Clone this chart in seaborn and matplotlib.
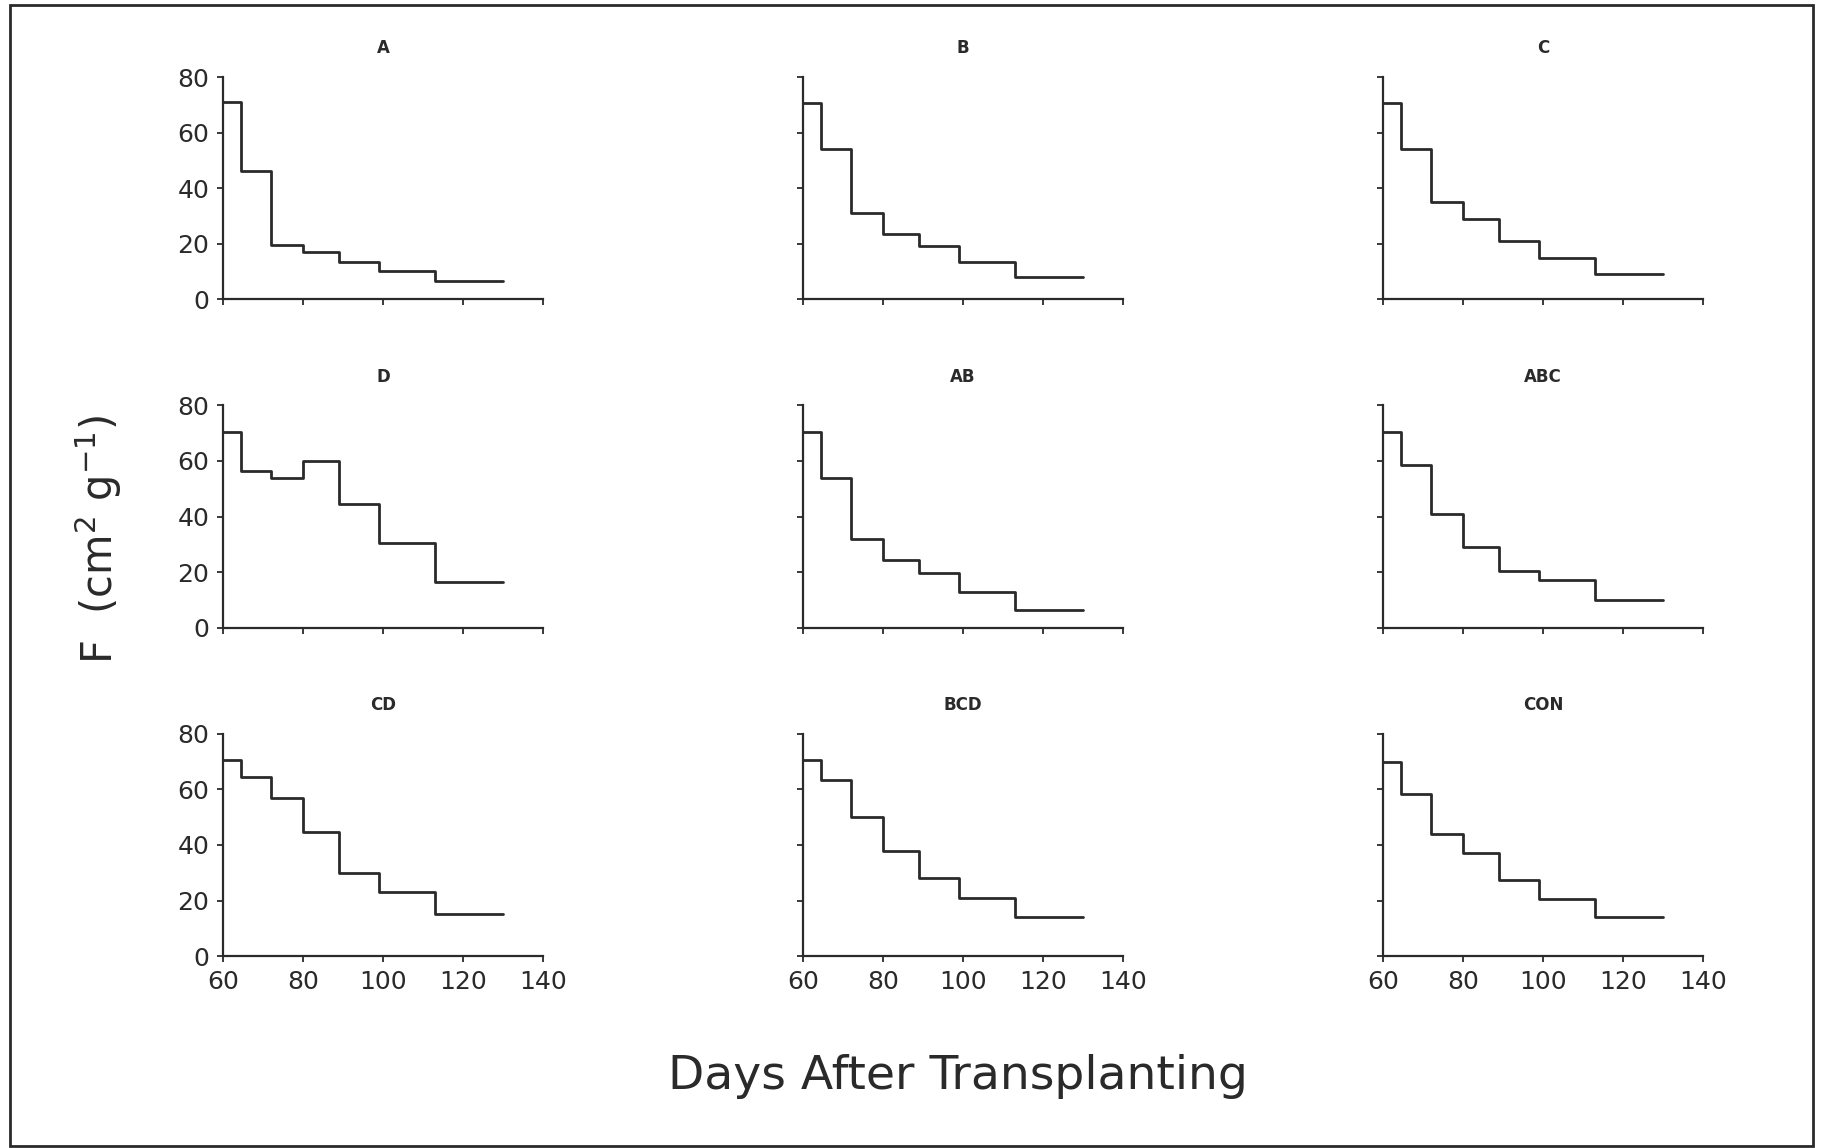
import pandas as pd
import matplotlib.pyplot as plt
import seaborn as sns
from matplotlib.patches import Rectangle

# Datas de mudanca dos degraus (dias apos transplante)
dias = [60, 64.5, 72, 80, 89, 99, 113, 130]

# Valores de F (cm2 g-1) por tratamento, um valor por intervalo
f_A = [71, 46, 19.5, 17, 13.5, 10, 6.5]
f_B = [70.5, 54, 31, 23.5, 19, 13.5, 8]
f_C = [70.5, 54, 35, 29, 21, 15, 9]
f_D = [70.5, 56.5, 54, 60, 44.5, 30.5, 16.5]
f_AB = [70.5, 54, 32, 24.5, 19.5, 13, 6.5]
f_ABC = [70.5, 58.5, 41, 29, 20.5, 17, 10]
f_CD = [70.5, 64.5, 57, 44.5, 30, 23, 15]
f_BCD = [70.5, 63.5, 50, 38, 28, 21, 14]
f_CON = [70, 58.5, 44, 37, 27.5, 20.5, 14]

tratamentos = ['A', 'B', 'C', 'D', 'AB', 'ABC', 'CD', 'BCD', 'CON']
valores = [f_A, f_B, f_C, f_D, f_AB, f_ABC, f_CD, f_BCD, f_CON]

# Montando tabela longa (ultimo valor repetido para fechar o degrau)
linhas = []
for trat, vals in zip(tratamentos, valores):
    for d, v in zip(dias, vals + [vals[-1]]):
        linhas.append({'trat': trat, 'dia': d, 'F': v})
df = pd.DataFrame(linhas)

sns.set_style('ticks')
plt.rcParams['font.family'] = ['DejaVu Sans']
cor = '#2a2a2a'

fig, axes = plt.subplots(3, 3, figsize=(18.21, 11.48), dpi=100)
fig.subplots_adjust(left=0.1225, right=0.9352, top=0.9329, bottom=0.1672,
                    wspace=0.8125, hspace=0.478)

for i, (ax, trat) in enumerate(zip(axes.flat, tratamentos)):
    sub = df[df['trat'] == trat]
    sns.lineplot(data=sub, x='dia', y='F', ax=ax, drawstyle='steps-post',
                 color=cor, linewidth=2.0, estimator=None)
    ax.set_xlim(60, 140)
    ax.set_ylim(0, 80)
    ax.set_xticks([60, 80, 100, 120, 140])
    ax.set_yticks([0, 20, 40, 60, 80])
    sns.despine(ax=ax)
    for s in ['left', 'bottom']:
        ax.spines[s].set_linewidth(1.6)
        ax.spines[s].set_color(cor)
    ax.tick_params(direction='out', length=4, width=1.3, color=cor,
                   labelsize=18, labelcolor=cor, pad=6)
    ax.set_xlabel('')
    ax.set_ylabel('')
    ax.set_title(trat, fontsize=12, fontweight='bold', color=cor, pad=17)
    if i % 3 != 0:
        ax.tick_params(axis='y', labelleft=False)
    if i < 6:
        ax.tick_params(axis='x', labelbottom=False)

fig.text(0.526, 0.062, 'Days After Transplanting', ha='center', va='center',
         fontsize=34, color=cor)
fig.text(0.054, 0.53, r'F  (cm$^{2}$ g$^{-1}$)', ha='center', va='center',
         rotation=90, fontsize=30, color=cor)

# Moldura em volta da figura
fig.patches.append(Rectangle((10 / 1821, 2 / 1148), 1803 / 1821, 1141 / 1148,
                             transform=fig.transFigure, fill=False,
                             edgecolor=cor, linewidth=2.0))

fig.savefig('out.png', dpi=100)
